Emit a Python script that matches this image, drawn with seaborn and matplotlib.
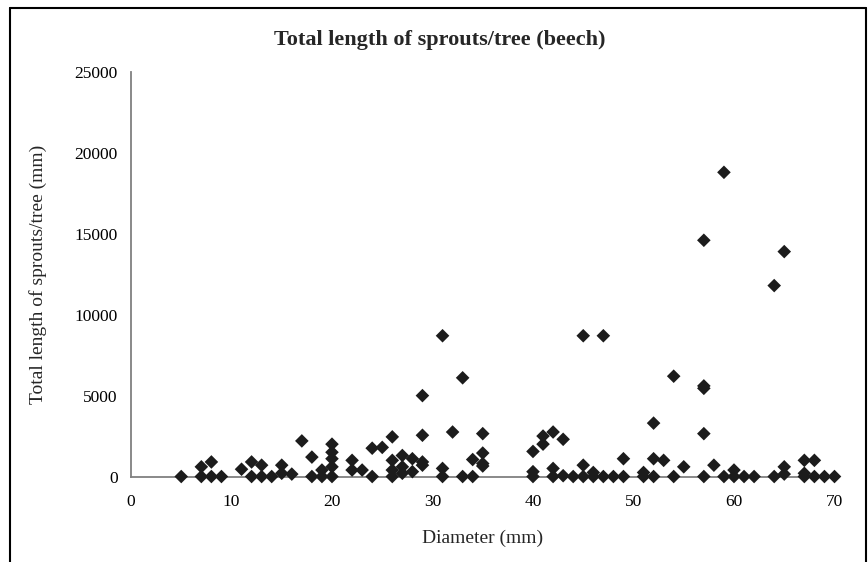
import matplotlib; matplotlib.use("Agg")
import matplotlib.pyplot as plt
from matplotlib.lines import Line2D
import pandas as pd
import seaborn as sns

sns.set_theme(style="white")
plt.rcParams["font.family"] = ["Liberation Serif", "DejaVu Serif"]

# diameter (mm) and total sprout length per tree (mm)
diameter = [
    5, 7, 7, 8, 8, 9, 11, 12, 12, 13, 13, 14, 15, 15, 16, 17, 18, 18, 19, 19,
    20, 20, 20, 20, 20, 22, 22, 23, 24, 24, 25, 26, 26, 26, 26, 27, 27, 27,
    28, 28, 29, 29, 29, 29, 31, 31, 31, 32, 33, 33, 34, 34, 35, 35, 35, 35,
    40, 40, 40, 41, 41, 42, 42, 42, 43, 43, 44, 45, 45, 45, 46, 46, 47, 47,
    48, 49, 49, 51, 51, 52, 52, 52, 53, 54, 54, 55, 57, 57, 57, 57, 57, 58,
    59, 59, 60, 60, 61, 62, 64, 64, 65, 65, 65, 67, 67, 67, 68, 68, 69, 70,
]
sprout_len = [
    0, 0, 600, 0, 900, 0, 450, 0, 900, 0, 700, 0, 200, 700, 150, 2200, 0, 1200, 0, 400,
    0, 600, 1100, 1500, 2000, 400, 1000, 400, 0, 1750, 1800, 0, 400, 1000, 2450, 200, 600, 1300,
    300, 1100, 700, 900, 2550, 5000, 0, 500, 8700, 2750, 0, 6100, 0, 1050, 650, 800, 1450, 2650,
    0, 300, 1550, 2000, 2500, 0, 500, 2750, 50, 2300, 0, 0, 700, 8700, 0, 250, 0, 8700,
    0, 0, 1100, 0, 250, 0, 1100, 3300, 1000, 0, 6200, 600, 0, 2650, 5450, 5600, 14600, 700,
    0, 18800, 0, 400, 0, 0, 0, 11800, 150, 600, 13900, 0, 200, 1000, 0, 1000, 0, 0,
]

x_ticks = [0, 10, 20, 30, 40, 50, 60, 70]
y_ticks = [0, 5000, 10000, 15000, 20000, 25000]

df = pd.DataFrame({"Diameter": diameter, "Length": sprout_len})

fig = plt.figure(figsize=(8.68, 5.62), dpi=100)
ax = fig.add_axes([0.1509, 0.1521, 0.8105, 0.7198])

sns.scatterplot(data=df, x="Diameter", y="Length", marker="D", s=48,
                color="#1c1c1c", edgecolor="none", linewidth=0, clip_on=False,
                zorder=3, ax=ax)

ax.set_xlim(0, 70)
ax.set_ylim(0, 25000)
ax.set_xticks(x_ticks)
ax.set_yticks(y_ticks)
ax.tick_params(axis="both", direction="inout", length=7, width=1, color="#808080",
               labelsize=12.5, labelcolor="black")
ax.tick_params(axis="x", pad=9)
ax.tick_params(axis="y", pad=6)
for side in ["top", "right"]:
    ax.spines[side].set_visible(False)
for side in ["left", "bottom"]:
    ax.spines[side].set_color("#808080")
    ax.spines[side].set_linewidth(1.3)

fig.text(0.507, 0.928, "Total length of sprouts/tree (beech)", fontsize=16,
         fontweight="bold", ha="center", va="center")
ax.set_xlabel("Diameter (mm)", fontsize=14, labelpad=14)
ax.set_ylabel("Total length of sprouts/tree (mm)", fontsize=14, labelpad=20)

# chart frame (open at the bottom, as in the source)
for xs, ys in [([0.0115, 0.0115], [0.0, 0.986]),
               ([0.0115, 0.9977], [0.986, 0.986]),
               ([0.9977, 0.9977], [0.986, 0.0])]:
    fig.add_artist(Line2D(xs, ys, transform=fig.transFigure, color="black", linewidth=1.5))

fig.savefig("out.png", dpi=100)
